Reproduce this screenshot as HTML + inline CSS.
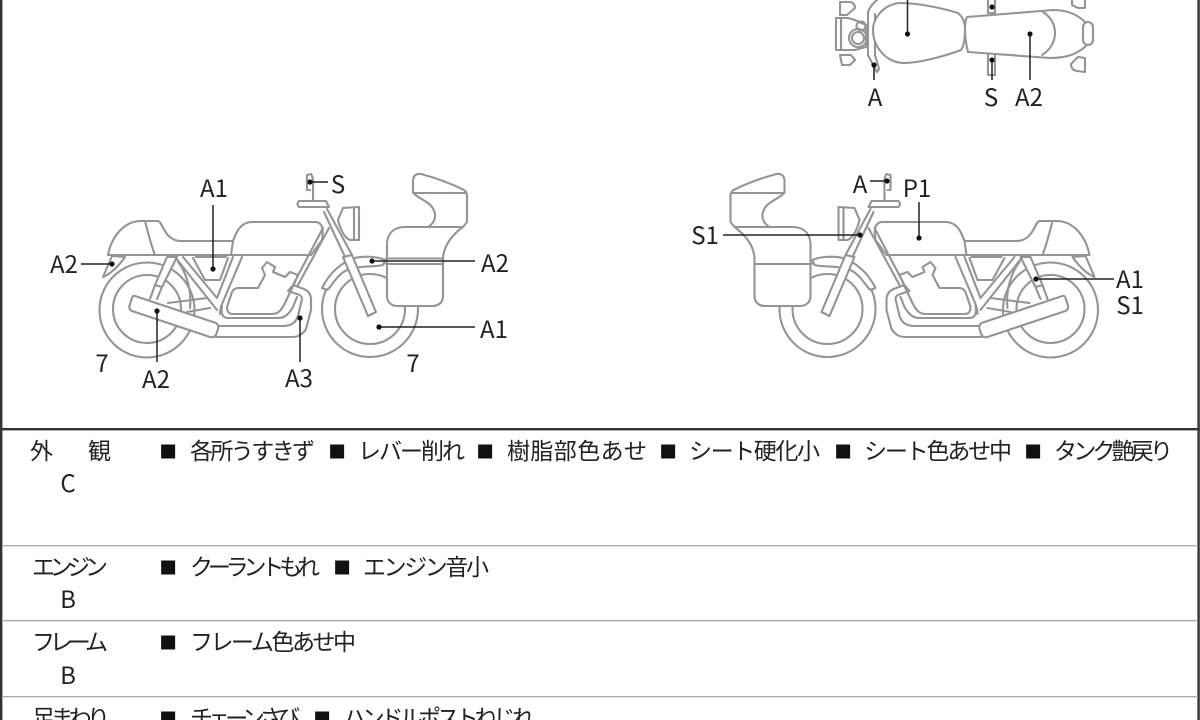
<!DOCTYPE html>
<html lang="ja"><head><meta charset="utf-8"><title>Motorcycle condition sheet</title>
<style>
html,body{margin:0;padding:0;background:#fff;width:1200px;height:720px;overflow:hidden}
svg{display:block}
text{font-family:"Liberation Sans","Noto Sans CJK JP",sans-serif;fill:#222}
.j{font-family:"Noto Sans CJK JP",sans-serif;font-size:23px;fill:#222}
.s{font-family:"Noto Sans CJK JP",sans-serif;font-size:17.5px;fill:#111}
.l{font-family:"Noto Sans CJK JP",sans-serif;font-size:24px;text-anchor:middle;fill:#222}
.b{fill:none;stroke:#949494;stroke-width:2.1;stroke-linejoin:round;stroke-linecap:round}
.w{fill:#fff;stroke:#949494;stroke-width:2.1;stroke-linejoin:round;stroke-linecap:round}
.k{stroke:#222;stroke-width:1.5;fill:none}
</style></head><body>
<svg width="1200" height="720" viewBox="0 0 1200 720" xmlns="http://www.w3.org/2000/svg">
<defs>
<g id="bike">
  <circle class="b" cx="147" cy="310" r="47.5"/><circle class="b" cx="147" cy="309" r="34"/>
  <circle class="b" cx="370" cy="309" r="48"/><circle class="b" cx="370" cy="309" r="35"/>
  <!-- rear subframe -->
  <path class="w" d="M167 257L155 285L162 287L177 257Z"/>
  <path class="b" d="M155 285L150 299M162 287L157 299"/>
  <path class="w" d="M112 256L103 277C110 274 118 267 125 257Z"/>
  <!-- tail, seat, tank -->
  <path class="w" d="M108 255C112 235 125 221 141 221H158C163 222 164 240 180 241H233C236 233 240 222 252 222H316C322 223 324 228 322 240L311 255Z"/>
  <path class="b" d="M145 221C148 233 151 245 155 255M108 255H311M233 241L231 255"/>
  <!-- frame triangle -->
  <path class="b" d="M175 257L217 310M183 257L217 298L233 257M242 257L222 304Q220 310 220 314"/>
  <path class="b" d="M193 258L205 280H220L228 258M196 257H226"/>
  <path class="b" d="M168 303L207 298M187 312L210 308M178 262C186 272 192 290 190 308"/>
  <!-- muffler -->
  <path class="w" d="M135 296L216 323Q219 325 218 329L216 335Q214 338 210 337L132 311Q128 309 130 304L132 298Q133 295 135 296Z"/>
  <!-- engine -->
  <path class="b" d="M233 314H272C279 314 282 309 285 303L295 282L298 275L290 272L285 277L273 272L275 267L267 262L262 268L265 275L258 288H238C234 288 232 291 231 295L227 307Q227 314 233 314Z"/>
  <path class="b" d="M222 306Q220 318 228 318H278C285 318 289 314 293 307L297 297"/>
  <path class="b" d="M218 326H283C292 326 296 322 298 316L302 299C302 296 300 295 297 294L288 291L293 285L304 289Q311 292 311 300V310L306 329C302 335 298 337 292 337H216"/>
  <!-- front frame -->
  <path class="b" d="M329 228L298 285M323 228L294 283M233 241H233"/>
  <!-- fender, fork -->
  <path class="w" d="M322 288C330 272 342 262 355 258C362 256 376 256 385 260L383 265C372 268 350 264 340 275C334 280 332 286 327 290Z"/>
  <path class="w" d="M343 257L352 255L376 312L368 316Z"/>
  <path class="b" d="M352 255L327 209M345 257L324 212"/>
  <path class="w" d="M299 201H326L329 207H299Q296 204 299 201Z"/>
  <path class="w" d="M338 220L343 208L359 207V240H350C344 238 340 228 338 220Z"/><path class="b" d="M354 208V239"/>
  <path class="b" d="M307 175L311 174C314 178 313 186 313 190V201M307 175V190H310"/>
  <!-- luggage -->
  <path class="w" d="M413 192V180Q414 173 421 174C436 178 452 184 464 190Q467 192 467 196V222L463 227H428C436 222 437 214 432 207C427 200 416 198 413 192Z"/>
  <path class="b" d="M413 193H466"/>
  <path class="w" d="M387 243C388 233 394 227 405 227H463C452 235 444 245 443 258V296C443 303 438 306 432 306H398C391 306 387 302 387 296Z"/>
  <path class="b" d="M387 264H443"/>
</g>
</defs>

<!-- outer frame and table lines -->
<rect width="1200" height="720" fill="#fff"/>
<rect x="0" y="0" width="2.4" height="720" fill="#333"/>
<rect x="1197.4" y="0" width="2.4" height="720" fill="#333"/>
<rect x="0" y="428" width="1200" height="2.4" fill="#333"/>
<rect x="2" y="545" width="1196" height="1.3" fill="#a8a8a8"/>
<rect x="2" y="620" width="1196" height="1.3" fill="#a8a8a8"/>
<rect x="2" y="696" width="1196" height="1.3" fill="#a8a8a8"/>

<!-- bikes -->
<use href="#bike"/>
<use href="#bike" transform="translate(1197.5 0) scale(-1 1)"/>
<path class="b" d="M386 258.5H443"/>

<!-- top view -->
<g>
  <path class="b" d="M988 0V13H995V0M988 53V75H995V53"/>
  <path class="b" d="M1072 0L1072 5L1078 8H1085V0M1078 57L1071 64Q1071 70 1077 71L1085 72V58Z"/>
  <path class="b" d="M840 2H850Q855 3 855 8L847 15H840ZM840 55H851L855 60L850 65H842Z"/>
  <path class="b" d="M841 18H836V50H841ZM841 18H848L855 20L866 25V47L855 50H841"/>
  <circle class="b" cx="858" cy="38" r="9"/><circle class="b" cx="858" cy="38" r="6"/><circle class="b" cx="861" cy="26" r="4.5"/>
  <path class="b" d="M877 0Q870 6 868 12V55L872 63L877 72L879 69L875 55V14"/>
  <path class="w" d="M873 30C873 18 884 4 900 3C920 3 945 9 958 13C964 18 965 24 965 30C965 40 964 46 961 50C945 56 920 63 903 63C885 62 873 46 873 30Z"/>
  <path class="w" d="M967 17L1053 10C1065 10 1076 13 1085 22L1086 46C1076 55 1065 58 1050 58L968 52Q965 40 965 30Q965 20 967 17Z"/>
  <path class="b" d="M1043 12C1052 18 1055 26 1055 33C1055 42 1050 50 1042 55"/>
  <rect class="w" x="1083" y="22" width="10" height="23" rx="5"/>
</g>

<!-- leader lines -->
<g class="k">
  <path d="M213 205V269M81 264H112M157 311V362M310 182H328M372 261H475M379 327H475M300 318V362"/>
  <path d="M870 181H887M919 202V238M723 235H860M1036 279H1114"/>
  <path d="M907.5 0V34M1030 34V80M992 60V80M874 65V80"/>
</g>
<g fill="#111">
  <circle cx="213" cy="269" r="2.6"/><circle cx="112" cy="264" r="2.6"/><circle cx="157" cy="311" r="2.6"/>
  <circle cx="310" cy="182" r="2.6"/><circle cx="372" cy="261" r="2.6"/><circle cx="379" cy="327" r="2.6"/><circle cx="300" cy="318" r="2.6"/>
  <circle cx="887" cy="181" r="2.6"/><circle cx="919" cy="238" r="2.6"/><circle cx="860" cy="235" r="2.6"/><circle cx="1036" cy="279" r="2.6"/>
  <circle cx="907.5" cy="34" r="2.6"/><circle cx="1030" cy="34" r="2.6"/><circle cx="992" cy="60" r="2.6"/><circle cx="992" cy="7" r="2.6"/><circle cx="874" cy="65" r="2.6"/>
</g>

<!-- part labels -->
<g>
  <text class="l" x="214" y="197">A1</text><text class="l" x="338" y="193">S</text>
  <text class="l" x="64" y="273">A2</text><text class="l" x="495" y="272">A2</text>
  <text class="l" x="494" y="338">A1</text><text class="l" x="102" y="372">7</text>
  <text class="l" x="156" y="388">A2</text><text class="l" x="299" y="387">A3</text>
  <text class="l" x="413" y="372">7</text>
  <text class="l" x="860" y="193">A</text><text class="l" x="917" y="197">P1</text>
  <text class="l" x="705" y="244">S1</text><text class="l" x="1130" y="288">A1</text>
  <text class="l" x="1130" y="314">S1</text>
  <text class="l" x="875" y="106">A</text><text class="l" x="991" y="106">S</text><text class="l" x="1029" y="106">A2</text>
</g>

<!-- table -->
<g>
  <text class="j" x="30" y="459">外</text><text class="j" x="88" y="459">観</text>
  <text class="l" x="68" y="492">C</text>
  <text class="j" x="32" y="575" textLength="76">エンジン</text>
  <text class="l" x="68" y="608">B</text>
  <text class="j" x="32" y="650" textLength="76">フレーム</text>
  <text class="l" x="68" y="684">B</text>
  <text class="j" x="32" y="726" textLength="78">足まわり</text>

  <text class="s" x="159.4" y="458">■</text><text class="j" x="190" y="459" textLength="125">各所うすきず</text>
  <text class="s" x="328.4" y="458">■</text><text class="j" x="358" y="459" textLength="107">レバー削れ</text>
  <text class="s" x="476.4" y="458">■</text><text class="j" x="507" y="459" textLength="140">樹脂部色あせ</text>
  <text class="s" x="659.4" y="458">■</text><text class="j" x="689" y="459" textLength="131">シート硬化小</text>
  <text class="s" x="834.4" y="458">■</text><text class="j" x="864" y="459" textLength="148">シート色あせ中</text>
  <text class="s" x="1024.4" y="458">■</text><text class="j" x="1054" y="459" textLength="119">タンク艶戻り</text>

  <text class="s" x="159.4" y="574">■</text><text class="j" x="190" y="575" textLength="130">クーラントもれ</text>
  <text class="s" x="333.4" y="574">■</text><text class="j" x="363" y="575" textLength="126">エンジン音小</text>

  <text class="s" x="159.4" y="649">■</text><text class="j" x="190" y="650" textLength="166">フレーム色あせ中</text>

  <text class="s" x="159.4" y="725">■</text><text class="j" x="190" y="726" textLength="110">チェーンさび</text>
  <text class="s" x="313.4" y="725">■</text><text class="j" x="343" y="726" textLength="192">ハンドルポストねじれ</text>
</g>
</svg>
</body></html>
